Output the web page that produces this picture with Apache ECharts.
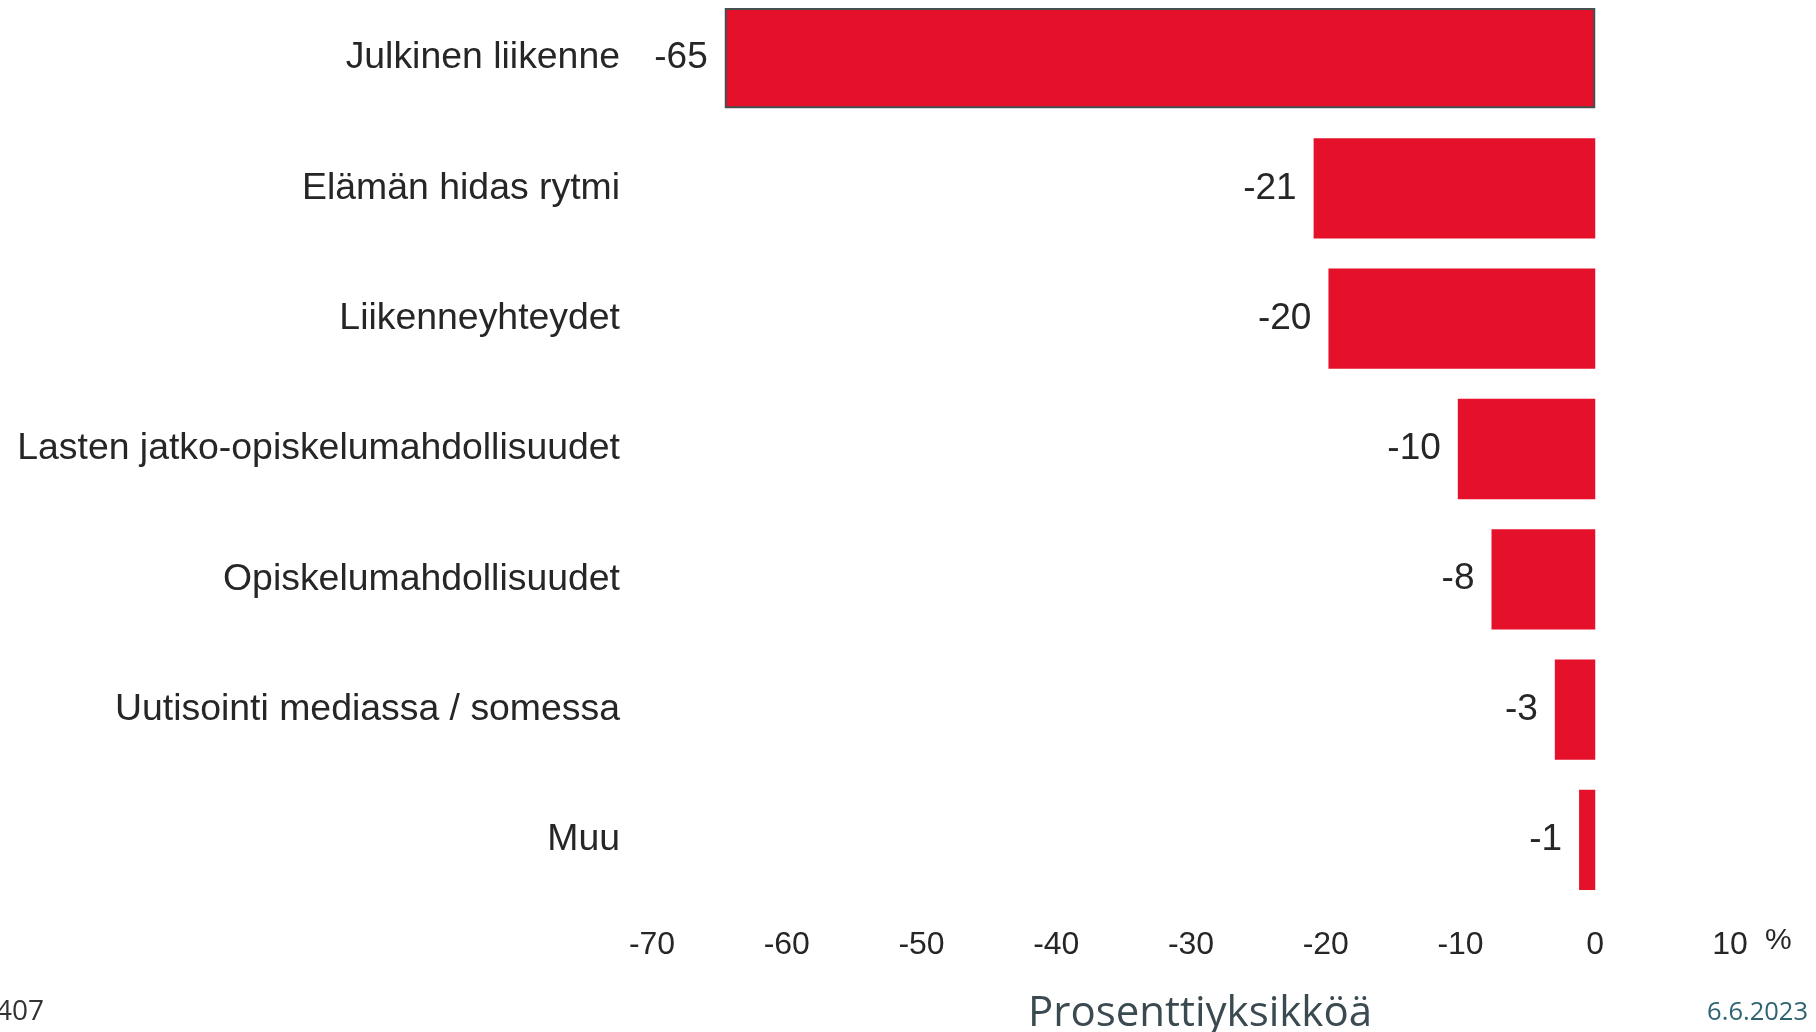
<!DOCTYPE html>
<html>
<head>
<meta charset="utf-8">
<script src="https://cdn.jsdelivr.net/npm/echarts@6/dist/echarts.min.js"></script>
<style>
html,body{margin:0;padding:0;background:#fff;}
#c{width:1816px;height:1032px;}
</style>
</head>
<body>
<div id="c"></div>
<script>
const categories = ['Julkinen liikenne','Elämän hidas rytmi','Liikenneyhteydet','Lasten jatko-opiskelumahdollisuudet','Opiskelumahdollisuudet','Uutisointi mediassa / somessa','Muu'];
const values = [-64.6,-20.9,-19.8,-10.2,-7.7,-3.0,-1.2];
const axisMin = -70, axisMax = 10, axisStep = 10;
const axisTitle = 'Prosenttiyksikköä';
const unitLabel = '%';
const dateLabel = '6.6.2023';
const countLabel = '407';

const FONT = '"Liberation Sans",Arial,sans-serif';
const chart = echarts.init(document.getElementById('c'));
chart.setOption({
  animation:false,
  backgroundColor:'#fff',
  grid:{left:652,right:86,top:-7,bottom:127,containLabel:false,outerBoundsMode:'none'},
  xAxis:{
    type:'value',min:axisMin,max:axisMax,interval:axisStep,
    axisLine:{show:false},axisTick:{show:false},splitLine:{show:false},
    axisLabel:{margin:24,fontSize:32,color:'#262626',fontFamily:FONT},
    name:axisTitle,nameLocation:'middle',nameGap:88,
    nameTextStyle:{fontSize:42,color:'#3a4a50',fontFamily:'"Open Sans","Noto Sans",sans-serif',padding:[0,0,0,18]}
  },
  yAxis:{
    type:'category',data:categories,inverse:true,
    axisLine:{show:false},axisTick:{show:false},splitLine:{show:false},
    axisLabel:{margin:32,fontSize:37.4,color:'#262626',fontFamily:FONT}
  },
  series:[{
    type:'bar',
    data:values.map((v,i)=>i===0?{value:v,itemStyle:{borderColor:'#44504f',borderWidth:2}}:v),
    barCategoryGap:'23%',
    itemStyle:{color:'#e5112a'},
    label:{show:true,position:'left',distance:17,fontSize:37,color:'#262626',fontFamily:FONT,
      formatter:p=>p.value.toFixed(0)}
  }],
  graphic:[
    {type:'text',left:1765,top:926,style:{text:unitLabel,fontSize:30,fill:'#262626',fontFamily:FONT}},
    {type:'text',right:8,top:1000,style:{text:dateLabel,fontSize:25.5,fill:'#2e6472',fontFamily:'"Open Sans","Noto Sans",sans-serif'}},
    {type:'text',left:-4,top:998,style:{text:countLabel,fontSize:28,fill:'#333',fontFamily:'"Open Sans","Noto Sans",sans-serif'}}
  ]
});
</script>
</body>
</html>
